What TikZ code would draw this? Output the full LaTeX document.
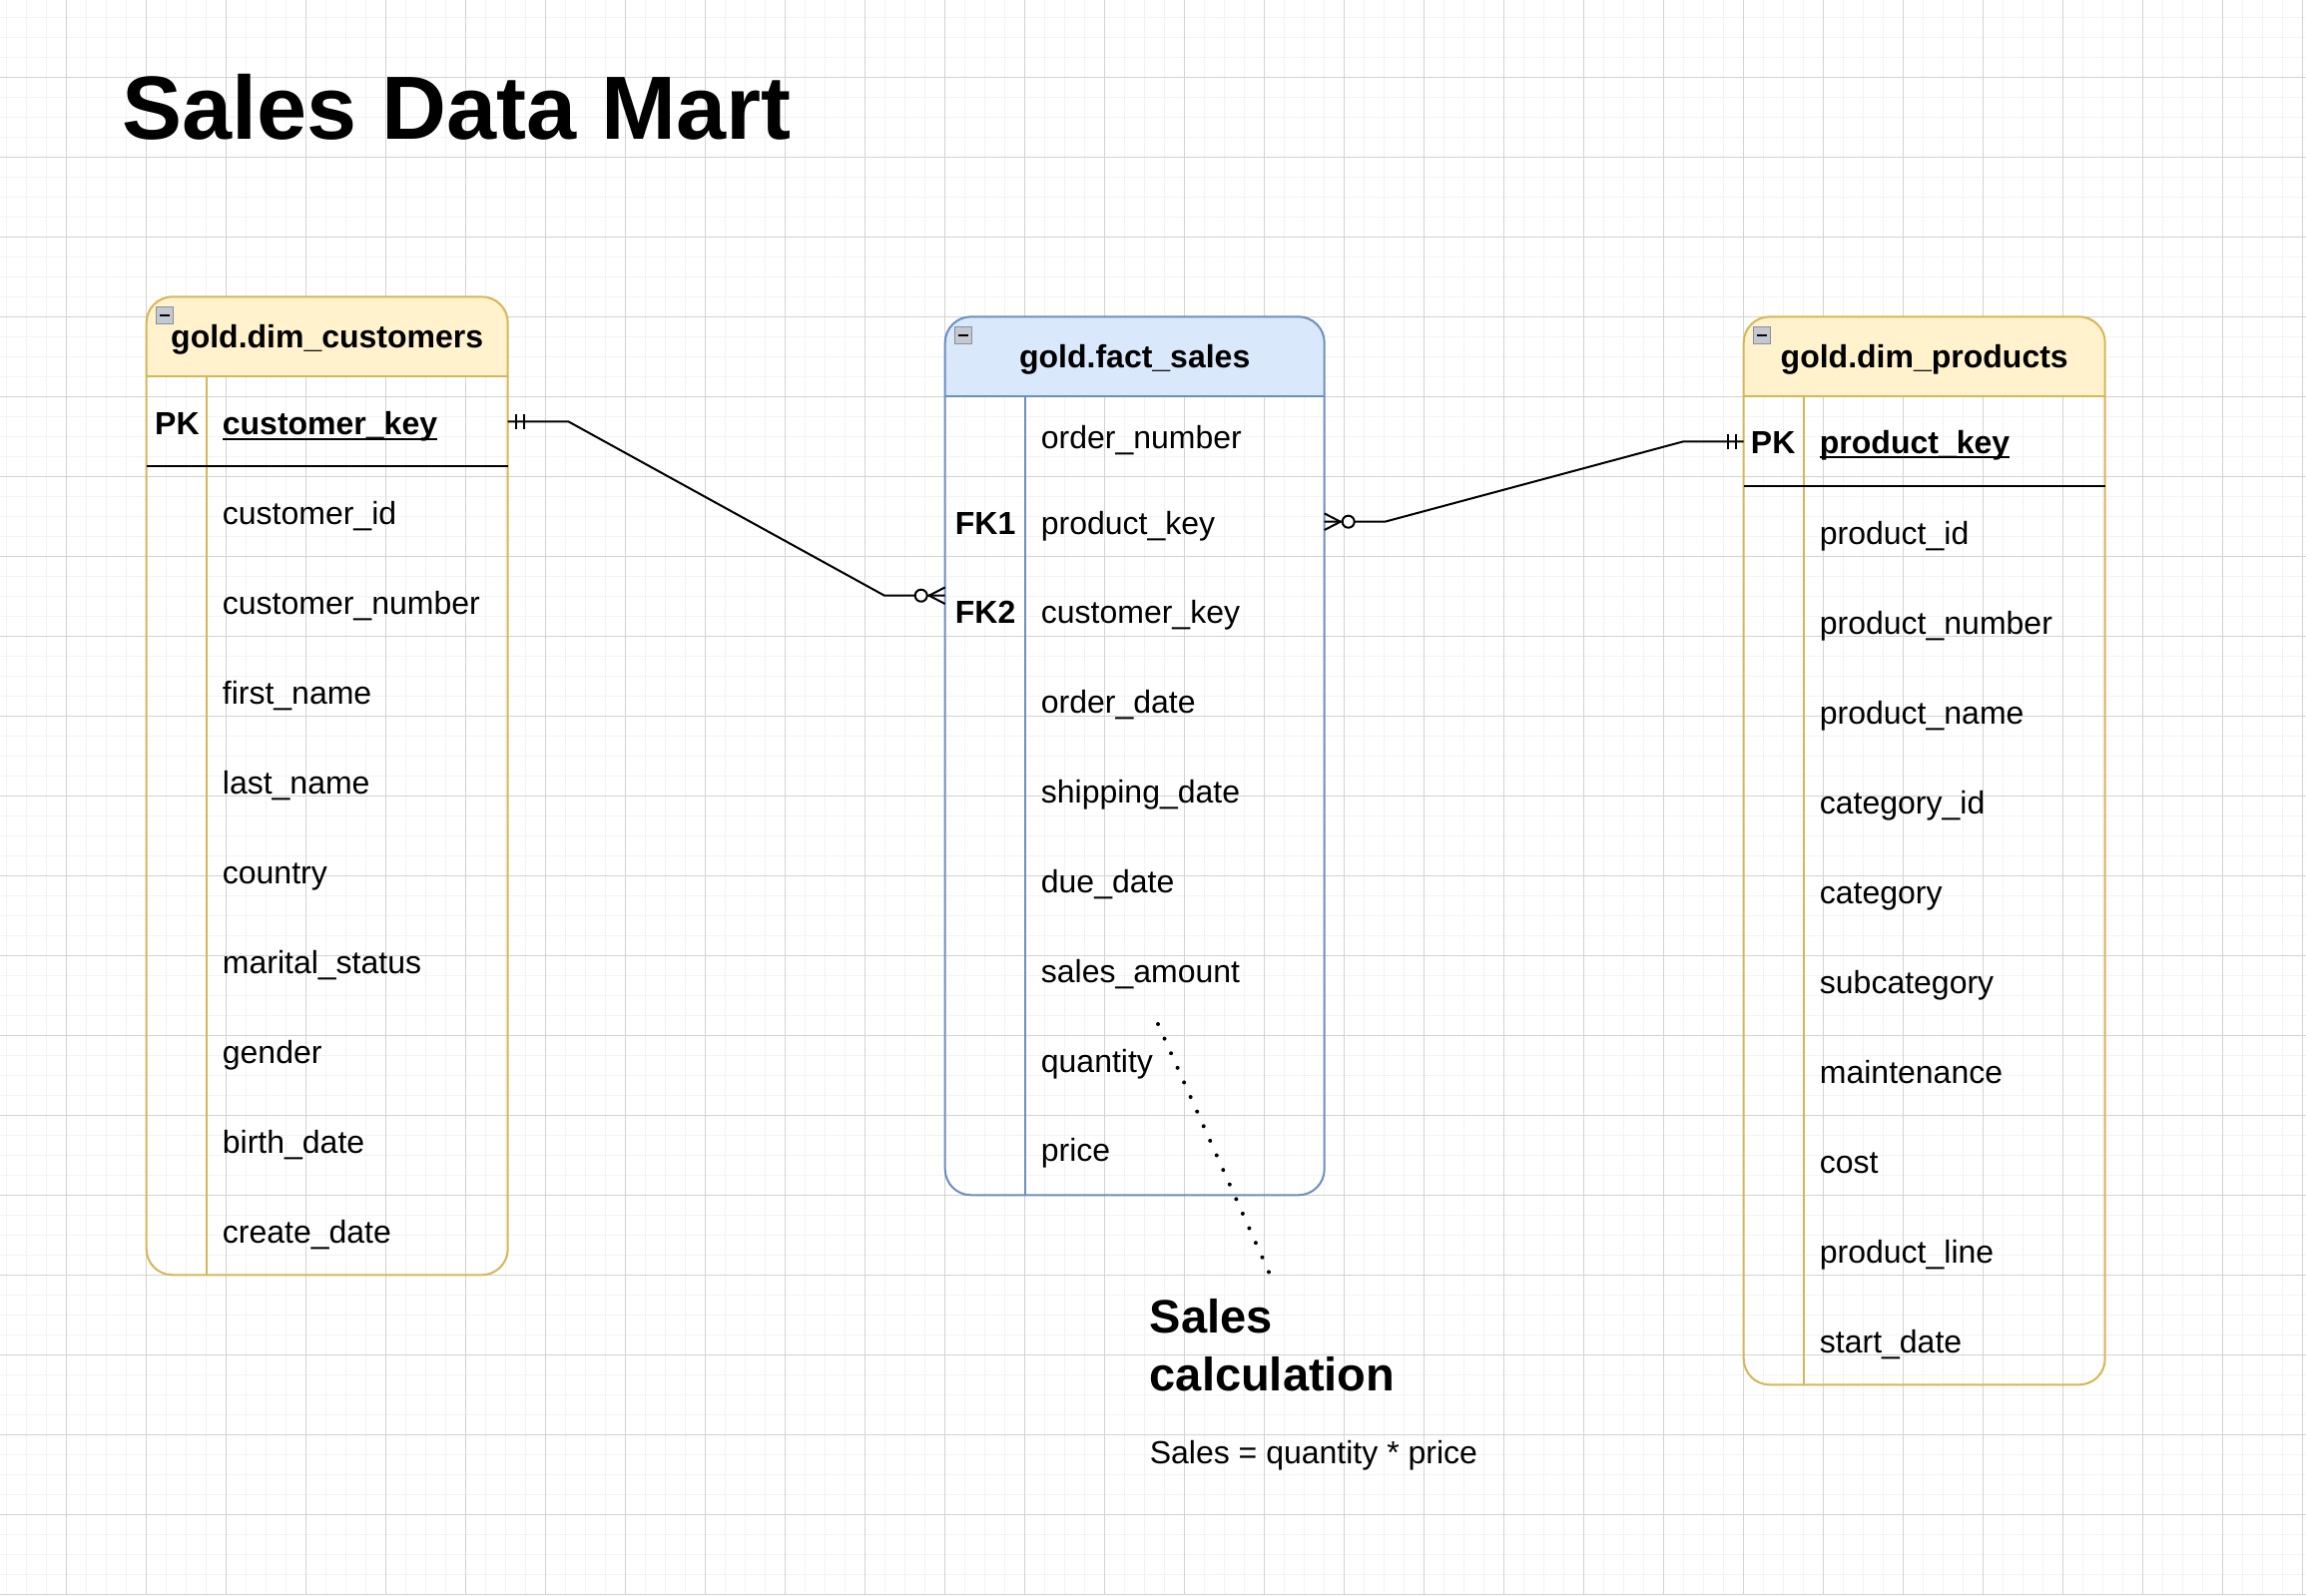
\documentclass[tikz,border=0pt]{standalone}
\usepackage{fontspec}
\setmainfont{Liberation Sans}
\definecolor{yfill}{HTML}{FFF2CC}
\definecolor{ystroke}{HTML}{D6B656}
\definecolor{bfill}{HTML}{DAE8FC}
\definecolor{bstroke}{HTML}{6C8EBF}
\definecolor{gridmajor}{HTML}{D3D3D3}
\definecolor{gridminor}{HTML}{F3F3F3}
\definecolor{iconfill}{HTML}{C4C8D0}
\definecolor{iconedge}{HTML}{8A8F99}
\tikzset{
  fieldtxt/.style={anchor=base west, inner sep=0pt, font=\fontsize{32}{38}\selectfont},
  keytxt/.style={anchor=base west, inner sep=0pt, font=\fontsize{32}{38}\selectfont\bfseries},
  headtxt/.style={anchor=base, inner sep=0pt, font=\fontsize{32}{38}\selectfont\bfseries},
  notetitle/.style={anchor=base west, inner sep=0pt, font=\fontsize{47}{58}\selectfont\bfseries},
  conn/.style={line width=2pt, black},
  ulined/.style={line width=2pt, black},
  pkline/.style={line width=2pt, black},
  minorgrid/.style={gridminor, line width=1.4pt},
  majorgrid/.style={gridmajor, line width=1.2pt},
}
\newcommand\erTable[8]{%
  \begin{scope}
    \clip[rounded corners=26pt] (#1,#2) rectangle (#3,#5);
    \fill[#6] (#1,#2) rectangle (#3,#4);
  \end{scope}
  \draw[#7, line width=2pt, rounded corners=26pt] (#1,#2) rectangle (#3,#5);
  \draw[#7, line width=2pt] (#1,#4) -- (#3,#4);
  \draw[#7, line width=2pt] (#8,#4) -- (#8,#5);
  \draw[iconedge, fill=iconfill, line width=1.2pt] ({#1+10},{#2+10}) rectangle ({#1+27},{#2+27});
  \draw[black, line width=2pt] ({#1+13.5},{#2+18.5}) -- ({#1+23.5},{#2+18.5});
}
\begin{document}
\begin{tikzpicture}[x=1pt,y=-1pt]
\useasboundingbox (0,0) rectangle (2310,1598);
\fill[white] (0,0) rectangle (2310,1598);
% grid
\foreach \i in {0,...,115} \draw[minorgrid] ({6.7+20*\i},0) -- ({6.7+20*\i},1598);
\foreach \j in {0,...,79} \draw[minorgrid] (0,{17.3+20*\j}) -- (2310,{17.3+20*\j});
\foreach \i in {0,...,28} \draw[majorgrid] ({66.7+80*\i},0) -- ({66.7+80*\i},1598);
\foreach \j in {0,...,19} \draw[majorgrid] (0,{77.3+80*\j}) -- (2310,{77.3+80*\j});

% title
\node[anchor=base west, inner sep=0pt, font=\fontsize{90}{100}\selectfont\bfseries] (title) at (122.5,139.3) {Sales Data Mart};

% tables
\erTable{146.7}{297.3}{508.7}{377.3}{1277.3}{yfill}{ystroke}{206.7}
\erTable{946.7}{317.3}{1326.7}{397.3}{1197.3}{bfill}{bstroke}{1026.7}
\erTable{1746.7}{317.3}{2108.7}{397.3}{1387.3}{yfill}{ystroke}{1806.7}
\draw[pkline] (146.7,467.3) -- (508.7,467.3);
\draw[pkline] (1746.7,487.3) -- (2108.7,487.3);

% headers
\node[headtxt] (hc) at (327.7,348.8) {gold.dim\_customers};
\node[headtxt] (hf) at (1136.7,368.8) {gold.fact\_sales};
\node[headtxt] (hp) at (1927.7,368.8) {gold.dim\_products};

% customers
\node[keytxt] (cpk) at (155,435.5) {PK};
\node[keytxt] (ck) at (222.7,435.5) {customer\_key};
\draw[ulined] ([yshift=-4pt]ck.base west) -- ([yshift=-4pt]ck.base east);
\foreach \t [count=\k from 0] in {customer\_id,customer\_number,first\_name,last\_name,country,marital\_status,gender,birth\_date,create\_date}
  \node[fieldtxt] (cf\k) at (222.7,{525+90*\k}) {\t};

% fact
\foreach \t/\yy [count=\k from 0] in {order\_number/449.3,product\_key/535.8,customer\_key/624.8,order\_date/714.5,shipping\_date/804.8,due\_date/894.5,sales\_amount/984.8,quantity/1074,price/1163.3}
  \node[fieldtxt] (ff\k) at (1042.7,\yy) {\t};
\node[keytxt] (fk1) at (956.7,535.8) {FK1};
\node[keytxt] (fk2) at (956.7,624.8) {FK2};

% products
\node[keytxt] (ppk) at (1753.7,454.3) {PK};
\node[keytxt] (pk) at (1822.7,454.3) {product\_key};
\draw[ulined] ([yshift=-4pt]pk.base west) -- ([yshift=-4pt]pk.base east);
\foreach \t [count=\k from 0] in {product\_id,product\_number,product\_name,category\_id,category,subcategory,maintenance,cost,product\_line,start\_date}
  \node[fieldtxt] (pf\k) at (1822.7,{545+90*\k}) {\t};

% connector customers -> fact
\coordinate (cPKe) at (508.7,422.3);
\coordinate (cb1) at (569.3,422.3);
\coordinate (cb2) at (886,596.7);
\coordinate (fL) at (946.7,596.7);
\draw[conn] (cPKe) -- (cb1) -- (cb2) -- (fL);
\draw[conn] ([xshift=8pt,yshift=7.5pt]cPKe) -- ([xshift=8pt,yshift=-7.5pt]cPKe);
\draw[conn] ([xshift=16pt,yshift=7.5pt]cPKe) -- ([xshift=16pt,yshift=-7.5pt]cPKe);
\draw[conn] ([yshift=8.3pt]fL) -- ([xshift=-16pt]fL) -- ([yshift=-8.3pt]fL);
\draw[conn, fill=white] ([xshift=-24pt]fL) circle (6pt);

% connector fact -> products
\coordinate (fR) at (1326.7,522.7);
\coordinate (pb1) at (1387.3,522.7);
\coordinate (pb2) at (1686.4,442.3);
\coordinate (pPKw) at (1746.7,442.3);
\draw[conn] (fR) -- (pb1) -- (pb2) -- (pPKw);
\draw[conn] ([xshift=-8pt,yshift=7.5pt]pPKw) -- ([xshift=-8pt,yshift=-7.5pt]pPKw);
\draw[conn] ([xshift=-16pt,yshift=7.5pt]pPKw) -- ([xshift=-16pt,yshift=-7.5pt]pPKw);
\draw[conn] ([yshift=8.3pt]fR) -- ([xshift=16pt]fR) -- ([yshift=-8.3pt]fR);
\draw[conn, fill=white] ([xshift=24pt]fR) circle (6pt);

% note
\coordinate (n1) at (1160,1026);
\coordinate (n2) at (1271.4,1275.3);
\draw[line width=4pt, line cap=round, dash pattern=on 0pt off 16pt] (n1) -- (n2);
\node[notetitle] (nt1) at (1151.6,1335) {Sales};
\node[notetitle] (nt2) at (1151.6,1393.3) {calculation};
\node[anchor=base west, inner sep=0pt, font=\fontsize{32}{38}\selectfont] (nf) at (1151.6,1466.7) {Sales = quantity * price};
\end{tikzpicture}
\end{document}
